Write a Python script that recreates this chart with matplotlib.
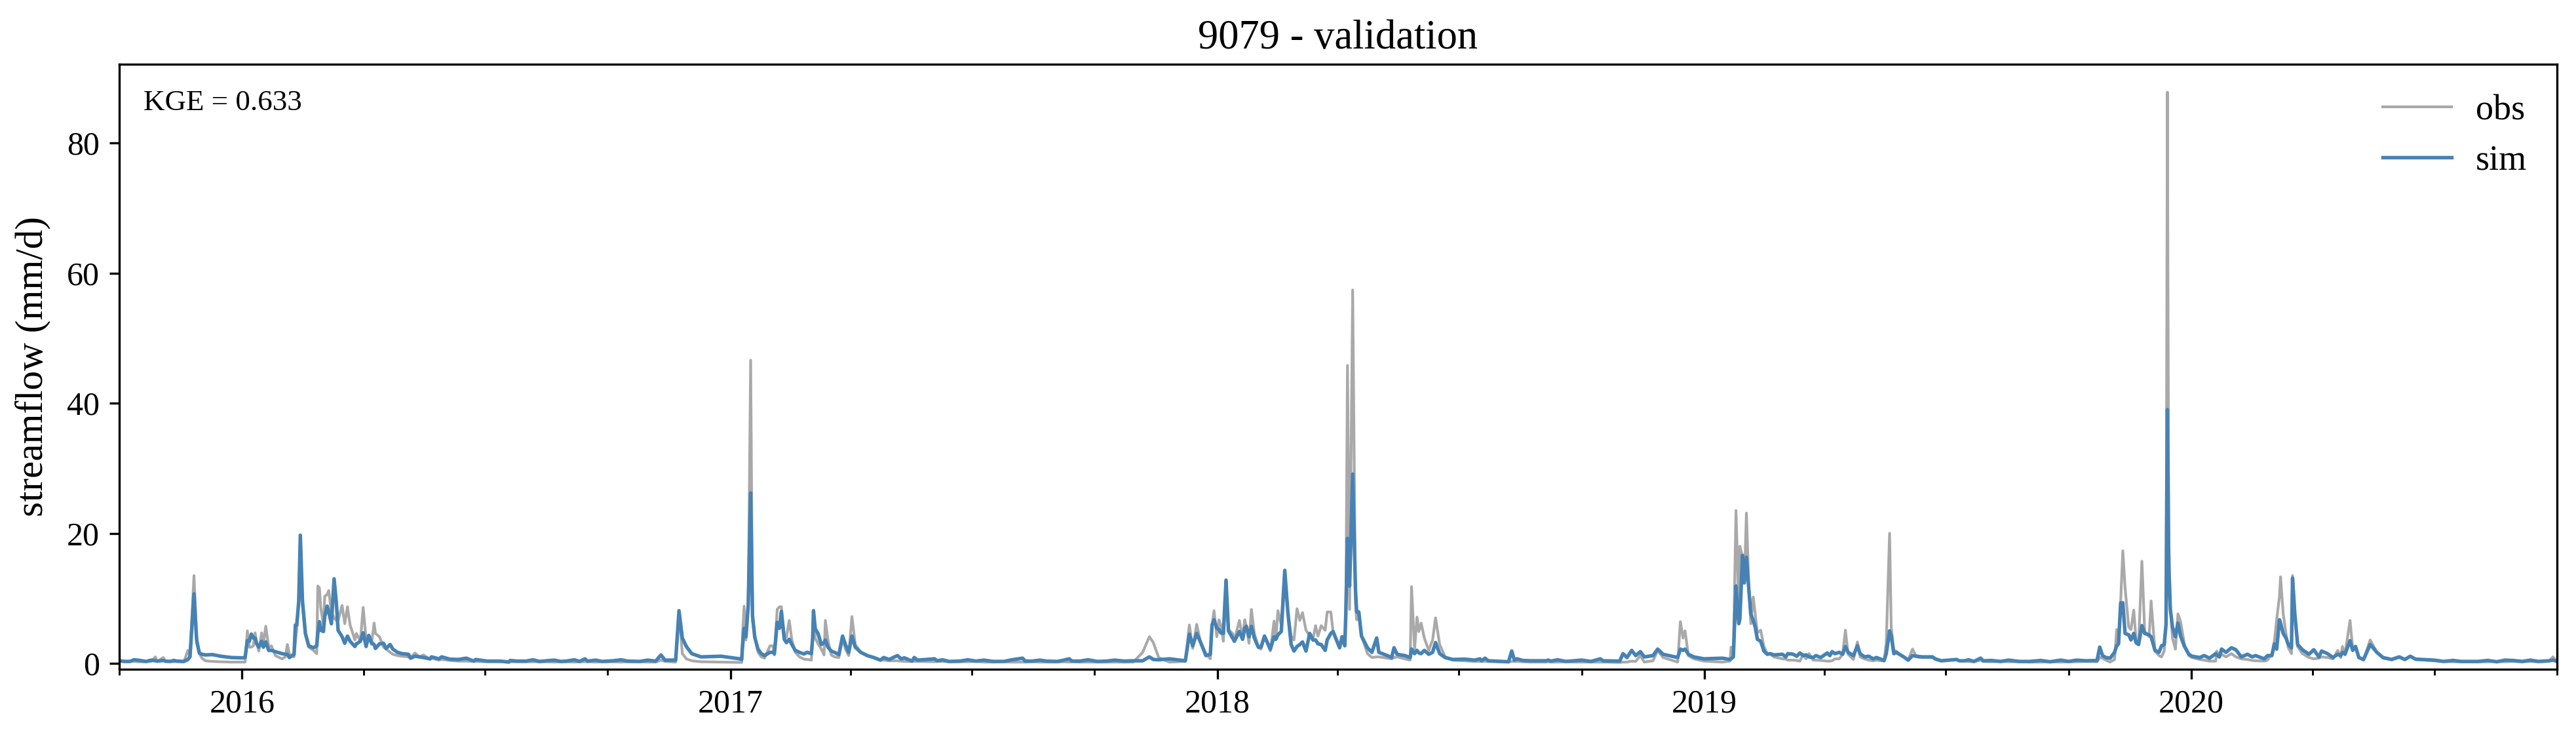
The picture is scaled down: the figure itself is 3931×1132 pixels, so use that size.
import numpy as np
import matplotlib
matplotlib.use("Agg")
import matplotlib.pyplot as plt
import matplotlib.dates as mdates

START_DATE = "2015-10-01"

# values, days counted from START_DATE
days_2016 = [0, 8, 14, 20, 27, 28.5, 33, 34.5, 43, 48.5, 51.4, 53, 56, 58, 60, 62, 64.5, 70, 76, 84, 92,
             94.3, 96, 97.5, 99, 100.5, 101.8, 103, 104.6, 106.7, 108, 109.8, 112, 114, 117, 122, 124.5, 126,
             127.5, 131, 132, 133, 134.5, 135.7, 137.3, 139.5, 142, 145.5, 148, 148.8, 150, 151, 153, 154,
             155.8, 157, 159, 161, 162.7, 164, 167, 169, 171, 173, 176.6, 177.7, 180.7, 182.8, 185, 187,
             189, 191, 192, 195, 198, 200, 203, 205, 208.5, 211.8, 216.7, 218.3, 221.6, 225, 228, 233, 234,
             239.6, 241.6, 247.8, 254, 260, 265.8, 267, 275.6, 285.4, 292, 293, 298]
obs_2016 = [.3, .3, .25, .25, 1.0, .3, .9, .3, .3, .25, 2.0, 1.0, 13.5, 4.0, 1.5, .8, .4, .3, .25, .2, .2,
            .2, 5.0, 2.5, 2.5, 2.7, 4.7, 3.2, 1.9, 4.7, 3.0, 5.7, 2.5, 2.7, 1.2, .7, 1.0, 2.9,
            1.4, 1.0, 3.2, 5.2, 9.5, 19.5, 9.0, 4.4, 2.5, 2.0, 1.5, 11.9, 11.6, 8.6, 5.9, 10.3,
            10.6, 11.2, 7.9, 7.0, 6.6, 6.6, 8.9, 6.1, 8.7, 5.9, 3.6, 4.6, 3.4, 8.6, 3.6, 4.2,
            2.9, 6.2, 4.6, 4.1, 2.5, 2.2, 1.7, 1.4, 1.2, 1.1, 1.0, .9, 1.6, 1.0, 1.3, .6, .8,
            .5, .6, .45, .35, .35, .3, .3, .25, .25, .25, .25, .25]
sim_2016 = [.4, .3, .5, .3, .4, .35, .45, .35, .35, .3, .6, 1.0, 10.7, 3.5, 1.6, 1.4, 1.3, 1.35, 1.1, .9, .85,
            .9, 3.5, 3.4, 4.5, 3.9, 3.9, 3.0, 2.5, 3.4, 2.5, 3.3, 2.0, 2.0, 1.8, 1.5, 1.4, 1.4,
            .9, 1.4, 5.9, 5.9, 9.5, 19.7, 9.6, 4.6, 2.7, 2.4, 2.7, 4.6, 6.4, 5.1, 4.9, 7.2,
            8.8, 7.9, 6.1, 13.0, 9.3, 5.1, 4.1, 3.1, 4.2, 3.4, 2.6, 3.0, 3.4, 4.7, 2.6, 4.3,
            3.2, 2.9, 2.3, 3.0, 3.1, 2.3, 2.9, 2.2, 1.7, 1.5, 1.4, .8, 1.1, 1.0, .9, .7, 1.0,
            .7, 1.0, .65, .6, .8, .35, .6, .35, .35, .2, .45, .35]

days_2017 = [305, 320, 335, 349, 351, 370, 390, 402, 406, 409, 417, 419.5, 422, 425, 429, 436, 451, 465, 466.5,
             467, 468.3, 469.7, 471.4, 473.2, 474.6, 476.3, 478.7, 481.2, 483.6, 487.7, 489.9, 491, 493.1,
             494.8, 496.2, 498.4, 500, 502.1, 504.1, 506.6, 509.8, 513.1, 515.6, 518.7, 519.7, 520.3, 521.6,
             523.7, 526.2, 528.2, 529.2, 531.1, 533.6, 536, 539.3, 542.1, 544.2, 546.7, 549.1, 551.6, 555.7,
             560.6, 565.5, 570.4, 572.9, 577, 583.2, 586, 588.4, 594.2, 595.8, 598.2, 611, 613, 630, 655,
             677, 679, 695, 712, 714, 740, 760]
obs_2017 = [.25, .25, .25, .25, .25, .25, .25, .2, .5, .3, .2, 8.0, 1.5, .7, .4, .25, .2, .15, .15,
            3.9, 8.8, 3.6, 9.0, 46.6, 6.6, 4.2, 1.7, 1.0, .8, 2.7, 2.7, 1.3, 8.3,
            8.7, 8.7, 4.2, 4.0, 6.6, 3.6, 1.7, 1.0, .65, .6, .5, 3.9, 8.0, 3.9,
            3.0, 2.2, 1.3, 6.6, 3.6, 1.3, 1.0, .9, 3.9, 2.2, 1.2, 7.2, 2.9, 1.7,
            1.2, .9, .5, .5, .4, .4, .35, .3, .3, .3, .3, .25, .3, .25, .2,
            .2, .2, .2, .2, .25, .2, .2]
sim_2017 = [.35, .4, .35, .7, .35, .4, .3, .35, 1.3, .5, .5, 8.1, 3.9, 2.6, 1.5, 1.0, 1.1, .7, .6,
            2.2, 5.4, 4.1, 9.0, 26.2, 7.3, 4.0, 2.2, 1.5, 1.2, 1.7, 1.7, 1.5, 6.3,
            5.4, 8.0, 3.7, 3.2, 3.7, 2.9, 2.0, 1.7, 1.45, 1.7, 1.5, 3.9, 8.1, 5.3,
            4.6, 2.9, 3.2, 3.6, 2.5, 1.9, 1.7, 1.35, 4.2, 2.9, 1.7, 4.2, 2.5, 1.7,
            1.2, .9, .5, .9, .6, 1.2, .7, .85, .35, .9, .5, .7, .4, .35, .3,
            .8, .35, .35, .7, .35, .35, .4]

days_2018 = [767, 772, 775, 779, 787, 799, 802, 804.5, 807.5, 810.5, 814.4, 817.7, 819, 820.5, 822.6, 824.2,
             825.5, 827.5, 829.5, 831.3, 834.4, 835.7, 839.5, 841.9, 843.5, 844.7, 846.7, 848.5, 850.7, 853.7,
             855.7, 858.3, 862.7, 865.5, 866.8, 868.4, 870.9, 873.5, 875.8, 878.3, 880.4, 882.7, 884.8, 886.8,
             889.4, 892.2, 894.6, 896.6, 898.4, 900.8, 903.8, 905.3, 908, 909.7, 914.6, 916.4, 918.5, 919.3,
             920.5, 922.1, 924.4, 926.5, 927.4, 929, 931, 935.5, 938.8, 942.4, 944, 950.3, 953.6, 955.4,
             957.7, 963.4, 967.5, 968.5, 970.8, 972.6, 974, 975.7, 978.1, 981.4, 984.3, 986.5, 989.6, 993.7,
             999.4, 1008.4, 1015.8, 1019.9, 1021, 1023.6, 1026, 1041.2, 1043.6, 1045.6, 1047.7, 1051.8, 1058, 1069]
obs_2018 = [1.7, 4.1, 3.2, .9, .2, .3, 5.9, 2.3, 6.0, 3.2, 1.5, .7, 5.9, 8.1, 4.1, 6.7,
            5.9, 3.4, 12.6, 5.2, 4.6, 3.6, 6.6, 3.9, 6.7, 5.7, 3.1, 8.3, 4.6, 2.4,
            2.2, 4.1, 1.9, 6.5, 3.7, 8.1, 5.9, 14.1, 7.9, 4.2, 3.6, 8.4, 6.6, 7.8,
            5.1, 4.2, 3.7, 5.8, 4.2, 5.8, 5.1, 7.9, 7.9, 4.9, 2.4, 3.6, 2.9, 7.9,
            45.8, 8.3, 57.4, 9.3, 6.7, 7.9, 4.2, 1.5, .9, 1.0, 1.0, .8, .7, .9,
            1.0, .7, .5, 11.8, 2.2, 7.1, 4.9, 6.2, 3.9, 2.0, 3.6, 7.0, 2.9, 1.0,
            .5, .4, .3, .3, .3, .3, .3, .2, .3, .3, .3, .25, .2, .2]
sim_2018 = [.4, 1.0, .6, .55, .7, .4, 4.5, 2.7, 4.6, 3.2, 1.2, 1.4, 5.9, 6.7, 5.4, 5.2,
            4.7, 4.6, 12.8, 5.0, 3.9, 3.4, 4.9, 3.7, 5.4, 5.7, 4.1, 5.7, 3.9, 2.5,
            2.5, 4.2, 2.2, 4.1, 3.7, 4.4, 4.9, 14.3, 7.9, 2.9, 1.9, 2.6, 2.9, 3.3,
            1.9, 4.6, 3.6, 3.6, 3.0, 2.9, 2.0, 3.6, 4.6, 4.9, 2.4, 4.1, 2.7, 7.9,
            19.2, 11.9, 29.1, 11.3, 7.9, 7.9, 4.2, 2.4, 1.7, 3.9, 1.7, 1.2, .9, 2.4,
            1.4, 1.2, .9, 2.2, 1.5, 2.0, 1.6, 1.5, 2.0, 1.4, 1.7, 3.2, 1.5, .9,
            .6, .65, .5, .7, .4, .8, .4, .25, 1.9, .5, .7, .45, .4, .4]

days_2019 = [1071, 1073, 1090, 1110, 1112, 1124.5, 1127, 1130, 1133.5, 1136.5, 1140, 1143, 1149.5, 1153, 1157,
             1168, 1170, 1172, 1173.5, 1176, 1180, 1187.6, 1201.5, 1207.2, 1208, 1209.7, 1211.7, 1213, 1213.8,
             1214.6, 1216.6, 1217.9, 1219.5, 1221.2, 1222.8, 1224.6, 1226.1, 1227.7, 1230.2, 1232.6, 1235.1,
             1237.5, 1240, 1246.5, 1249, 1250.6, 1254.7, 1257.2, 1259.6, 1262, 1264.2, 1266.5, 1269.5, 1271.6,
             1275.2, 1280.1, 1282, 1283.7, 1285.8, 1289.1, 1291.6, 1293.7, 1295.7, 1299.7, 1302.7, 1304.7, 1308,
             1311.2, 1314.5, 1317, 1322.7, 1324.3, 1326.8, 1328, 1330, 1331.7, 1334.1, 1337.4, 1340.7, 1344,
             1347, 1351, 1359, 1361, 1365.5, 1377, 1379, 1383, 1395, 1397, 1432, 1474]
obs_2019 = [.25, .2, .2, .2, .2, .15, .2, .2, .35, .3, 1.2, .2, .4, 2.0, .9,
            .2, 6.4, 3.9, 5.0, 1.2, .7, .35, .2, .35, 2.5, 1.5, 23.5, 14.0, 6.2,
            18.0, 16.3, 12.3, 23.1, 12.3, 6.1, 10.2, 7.6, 4.7, 5.1, 2.6, 1.5,
            1.4, 1.0, .7, .65, .5, .5, .45, .35, 1.4, .7, 1.5, .5, .5,
            .45, .35, .35, .4, .7, .7, 1.4, 5.1, 1.4, .6, 3.3, 1.0, .7,
            .5, .4, .5, .35, 3.2, 20.0, 5.6, 2.0, 1.9, 1.4, 1.0, .5, 2.2,
            1.0, .9, .9, .6, .4, .6, .4, .35, .5, .3, .2, .3]
sim_2019 = [.5, .35, .4, .7, .4, .35, 1.5, .9, 2.0, 1.2, 1.8, 1.0, 1.2, 2.2, 1.4,
            .9, 2.2, 2.0, 2.2, 1.4, 1.0, .7, .8, .6, .7, 1.0, 11.9, 7.9, 6.1,
            6.9, 16.6, 12.4, 16.3, 11.6, 7.6, 6.6, 5.6, 3.7, 3.4, 1.9, 1.4,
            1.5, 1.3, 1.4, 1.0, 1.5, 1.4, 1.1, 1.6, 1.2, 1.3, 1.0, .9, 1.2,
            .9, 1.6, 1.2, 1.8, 1.5, 1.7, 1.4, 2.6, 1.7, 1.2, 2.7, 1.5, 1.0,
            1.1, .7, .9, .45, 1.5, 5.0, 4.2, 1.5, 1.7, 1.4, 1.0, .5, 1.2,
            1.1, 1.0, 1.0, .7, .4, .6, .4, .4, .8, .4, .3, .4]

days_2020 = [1482.3, 1484.3, 1486.4, 1488.9, 1492.1, 1495.4, 1497, 1498.4, 1500, 1501.6, 1503.3, 1506, 1507.7,
             1509.8, 1511.5, 1513.4, 1515.9, 1518, 1521.3, 1522.8, 1525.7, 1528.7, 1530.6, 1532.6, 1534, 1535,
             1536, 1537.2, 1538.8, 1541, 1542.9, 1544.9, 1547.8, 1551.1, 1553.5, 1559.3, 1562.5, 1566.6, 1571.2,
             1572, 1574, 1575.6, 1578.9, 1583, 1586.3, 1590.4, 1595, 1598.6, 1601, 1607.6, 1610, 1613.3, 1615.3,
             1616.9, 1619, 1619.8, 1621.8, 1623.9, 1625.6, 1628, 1628.8, 1630.5, 1632.6, 1636.2, 1641.1, 1644.7,
             1648.5, 1650.6, 1655, 1659.1, 1662.7, 1664.9, 1666.2, 1668.1, 1671.9, 1673.9, 1676, 1678.5, 1682,
             1687, 1692, 1696.6, 1703, 1708.7, 1713, 1717, 1721, 1735, 1755, 1768, 1794, 1813, 1821, 1824, 1826.5]
obs_2020 = [.25, .9, .8, .5, .2, .6, 5.2, 3.2, 9.6, 17.3, 11.6, 5.6, 5.2,
            8.2, 3.6, 2.9, 15.7, 4.9, 4.1, 9.6, 1.9, 1.2, 1.0, 1.9, 6.0, 87.8,
            20.0, 8.9, 3.9, 2.2, 7.6, 6.4, 2.9, 1.2, .9, .6, .5, .35, .35,
            1.9, 1.0, 1.4, 1.0, 1.5, 1.0, .7, .6, .45, .4, .35, .5, 1.5, 3.6,
            6.7, 10.3, 13.3, 7.6, 4.6, 2.4, 1.5, 13.5, 7.6, 2.6, 1.5, .9, .7,
            .8, 1.0, .9, .7, 2.0, .9, 2.6, 1.4, 6.6, 2.2, 2.6, .9, .5,
            3.6, 1.7, .8, .6, .9, .6, 1.1, .6, .4, .25, .25, .3, .25, .35, 1.0, .35]
sim_2020 = [.45, 2.5, 1.2, .9, .8, 1.7, 2.7, 3.0, 9.3, 9.3, 4.6, 4.4, 3.6,
            4.6, 3.2, 2.9, 5.8, 4.6, 4.4, 4.1, 2.0, 1.7, 2.7, 2.9, 6.0, 39.0,
            15.0, 8.3, 5.6, 4.1, 6.2, 4.2, 2.6, 1.4, 1.1, .9, 1.2, .8, 1.5,
            1.3, 1.0, 2.2, 1.7, 2.4, 2.1, 1.0, 1.4, 1.0, 1.2, .7, 1.2, 1.2, 3.0,
            2.2, 6.7, 6.2, 4.6, 3.9, 2.9, 2.4, 13.1, 7.6, 2.9, 2.1, 1.4, 2.1,
            1.0, 1.9, 1.5, .9, 1.4, 1.2, 1.7, 1.4, 3.5, 2.0, 2.6, .9, .6,
            2.9, 1.7, .9, .6, 1.0, .6, 1.1, .65, .5, .3, .3, .45, .3, .4, .5, .35]

# small wiggles of the low flow stretches, merged in by day
days_low = [4, 11, 17, 24, 38, 41, 310, 315, 326, 331, 341, 345, 357, 362, 376, 381, 396, 617, 622, 636, 642,
            648, 663, 669, 684, 690, 703, 708, 720, 726, 733, 746, 753, 1078, 1084, 1096, 1103, 1386, 1390,
            1403, 1410, 1416, 1424, 1440, 1447, 1455, 1461, 1467, 1742, 1749, 1761, 1775, 1782, 1788, 1801, 1807]
obs_low = [.3, .3, .25, .3, .3, .25, .25, .25, .2, .25, .2, .25, .2, .25, .2, .25, .2, .3, .25, .25, .3,
           .2, .25, .2, .25, .2, .2, .25, .2, .2, .2, .2, .2, .2, .25, .2, .2, .3, .25,
           .25, .3, .25, .25, .2, .25, .2, .25, .25, .3, .25, .25, .25, .3, .25, .25, .3]
sim_low = [.3, .55, .4, .5, .3, .45, .55, .3, .5, .3, .55, .3, .5, .3, .55, .35, .5, .55, .3, .55, .35,
           .5, .3, .55, .35, .5, .3, .5, .35, .55, .3, .5, .35, .55, .3, .5, .3, .55, .3,
           .45, .3, .5, .3, .45, .25, .5, .3, .5, .3, .45, .3, .45, .25, .5, .3, .5]

y_ticks = [0, 20, 40, 60, 80]
kge_label = "KGE = 0.633"
title = "9079 - validation"

plt.rcParams["font.family"] = ["Liberation Serif", "DejaVu Serif"]

days = np.concatenate([days_2016, days_2017, days_2018, days_2019, days_2020, days_low])
obs = np.concatenate([obs_2016, obs_2017, obs_2018, obs_2019, obs_2020, obs_low])
sim = np.concatenate([sim_2016, sim_2017, sim_2018, sim_2019, sim_2020, sim_low])
order = np.argsort(days)
x = mdates.datestr2num(START_DATE) + days[order]

W, H = 3931, 1132
fig = plt.figure(figsize=(W / 300, H / 300), dpi=300)
ax = fig.add_axes([182 / W, 1 - 1021 / H, (3902 - 182) / W, (1021 - 98) / H])

ax.plot(x, obs[order], color="darkgray", lw=1.0, label="obs")
ax.plot(x, sim[order], color="steelblue", lw=1.3, label="sim")

ax.set_xlim(mdates.datestr2num(START_DATE), mdates.datestr2num("2020-10-01"))
ax.set_ylim(-0.9, 92.1)
ax.set_yticks(y_ticks)

ax.xaxis.set_major_locator(mdates.YearLocator())
ax.xaxis.set_major_formatter(mdates.DateFormatter("%Y"))
ax.xaxis.set_minor_locator(mdates.MonthLocator(bymonth=[1, 4, 7, 10]))
ax.tick_params(axis="both", which="major", labelsize=12, length=3.7, width=0.8)
ax.tick_params(axis="x", which="minor", length=2.1, width=0.7)

ax.set_ylabel("streamflow (mm/d)", fontsize=14.2, labelpad=6)
ax.set_title(title, fontsize=15, pad=5.8)
ax.text(0.0099, 0.936, kge_label, transform=ax.transAxes, fontsize=10.8, va="center", ha="left")

ax.legend(loc="upper right", frameon=False, fontsize=13, handlelength=1.95, handletextpad=0.68,
          labelspacing=0.48, borderaxespad=0.44)

fig.savefig("out.png", dpi=300)
